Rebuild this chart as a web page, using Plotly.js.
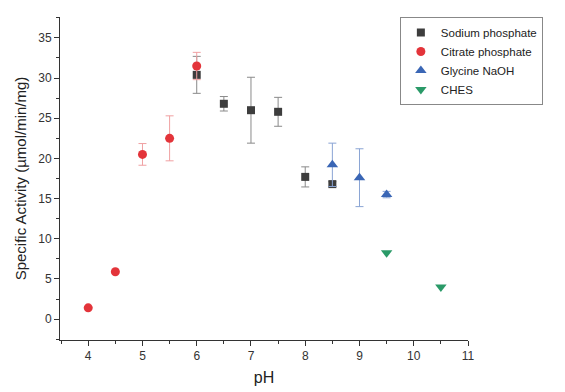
<!DOCTYPE html>
<html><head><meta charset="utf-8">
<script src="https://cdn.plot.ly/plotly-3.0.1.min.js"></script>
<style>html,body{margin:0;padding:0;background:#fff}</style>
</head><body><div id="chart" style="width:565px;height:392px"></div>
<script>
const sodiumPH = [6, 6.5, 7, 7.5, 8, 8.5];
const sodiumAct = [30.4, 26.8, 26.0, 25.8, 17.7, 16.8];
const sodiumErr = [2.3, 0.9, 4.1, 1.8, 1.25, 0.3];

const citratePH = [4, 4.5, 5, 5.5, 6];
const citrateAct = [1.4, 5.9, 20.5, 22.5, 31.5];
const citrateErr = [0, 0, 1.35, 2.8, 1.7];

const glycinePH = [8.5, 9, 9.5];
const glycineAct = [19.2, 17.6, 15.5];
const glycineErr = [2.7, 3.6, 0.4];

const chesPH = [9.5, 10.5];
const chesAct = [8.25, 4.0];

const xTicks = [4, 5, 6, 7, 8, 9, 10, 11];
const yTicks = [0, 5, 10, 15, 20, 25, 30, 35];

const FONT = 'Liberation Sans, Arial, sans-serif';

const traces = [
  {x: sodiumPH, y: sodiumAct, name: 'Sodium phosphate', mode: 'markers', type: 'scatter',
   marker: {symbol: 'square', size: 8, color: '#3d3d3d'},
   error_y: {type: 'data', array: sodiumErr, visible: true, color: '#8a8a8a', thickness: 1, width: 4}},
  {x: citratePH, y: citrateAct, name: 'Citrate phosphate', mode: 'markers', type: 'scatter',
   marker: {symbol: 'circle', size: 9, color: '#e3343a'},
   error_y: {type: 'data', array: citrateErr, visible: true, color: '#f0a0a2', thickness: 1, width: 4}},
  {x: glycinePH, y: glycineAct, name: 'Glycine NaOH', mode: 'markers', type: 'scatter',
   marker: {symbol: 'triangle-up', size: 10, color: '#3a66b5'},
   error_y: {type: 'data', array: glycineErr, visible: true, color: '#8aa4d4', thickness: 1, width: 4}},
  {x: chesPH, y: chesAct, name: 'CHES', mode: 'markers', type: 'scatter',
   marker: {symbol: 'triangle-down', size: 10, color: '#2a9a68'}}
];

const axisCommon = {
  showgrid: false, zeroline: false, showline: true, linecolor: '#333', linewidth: 1,
  ticks: 'outside', ticklen: 5, tickcolor: '#333', tickwidth: 1,
  tickfont: {family: FONT, size: 12, color: '#333'}
};

const layout = {
  width: 565, height: 392,
  margin: {l: 60, r: 97, t: 17, b: 52},
  paper_bgcolor: '#fff', plot_bgcolor: '#fff',
  showlegend: true,
  legend: {x: 0.833, y: 1, xanchor: 'left', yanchor: 'top',
    bordercolor: '#888', borderwidth: 1, bgcolor: '#fff',
    font: {family: FONT, size: 11.5, color: '#222'},
    tracegroupgap: 0, itemwidth: 30},
  xaxis: Object.assign({}, axisCommon, {
    range: [3.48, 11], tickvals: xTicks, ticktext: xTicks.map(String),
    minor: {ticks: 'outside', ticklen: 3, tickcolor: '#333', dtick: 0.5, tick0: 0},
    title: {text: 'pH', font: {family: FONT, size: 16, color: '#222'}, standoff: 9}
  }),
  yaxis: Object.assign({}, axisCommon, {
    range: [-2.6, 37.6], tickvals: yTicks, ticktext: yTicks.map(String),
    minor: {ticks: 'outside', ticklen: 3, tickcolor: '#333', dtick: 2.5, tick0: 0},
    title: {text: 'Specific Activity (µmol/min/mg)', font: {family: FONT, size: 15, color: '#222'}, standoff: 7}
  })
};

Plotly.newPlot('chart', traces, layout, {displayModeBar: false, staticPlot: true});
</script></body></html>
